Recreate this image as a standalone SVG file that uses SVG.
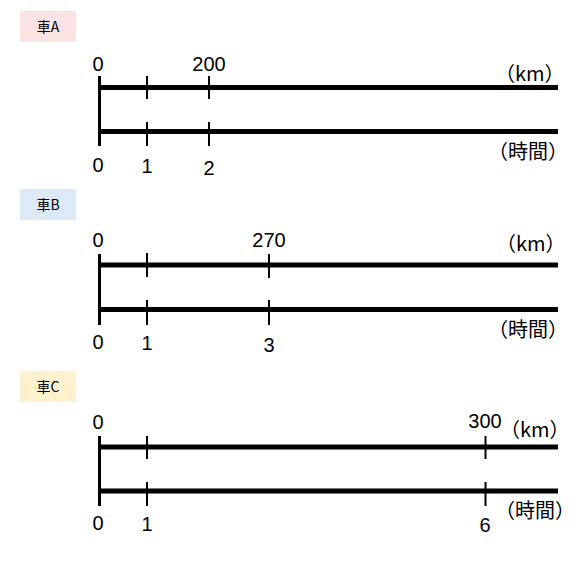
<svg xmlns="http://www.w3.org/2000/svg" width="584" height="562" viewBox="0 0 584 562">
<style>
.bg{fill:#ffffff}
.thick{stroke:#000;stroke-width:5;fill:none}
.axis{stroke:#000;stroke-width:3;fill:none}
.tick{stroke:#000;stroke-width:2;fill:none}
.num{font-family:"Liberation Sans","Noto Sans CJK JP",sans-serif;font-size:20px;fill:#000;text-anchor:middle}
.unit{font-family:"Noto Sans CJK JP",sans-serif;font-size:20px;fill:#000}
.tag{font-family:"Noto Sans CJK JP",sans-serif;font-size:14px;fill:#000;text-anchor:middle}
</style>
<rect class="bg" x="0" y="0" width="584" height="562"/>

<g id="carA">
  <rect x="20" y="11" width="56" height="31" fill="#fce3e3"/>
  <text class="tag" x="48" y="32">車A</text>
  <text class="num" x="98" y="71">0</text>
  <text class="num" x="209" y="71">200</text>
  <text class="unit" x="495" y="81">（km）</text>
  <text class="num" x="98" y="172">0</text>
  <text class="num" x="147" y="173">1</text>
  <text class="num" x="209" y="175">2</text>
  <text class="unit" x="488" y="159">（時間）</text>
</g>
<g id="carB">
  <rect x="20" y="189" width="56" height="31" fill="#dce9f7"/>
  <text class="tag" x="48" y="210">車B</text>
  <text class="num" x="98" y="247">0</text>
  <text class="num" x="269" y="247">270</text>
  <text class="unit" x="496" y="251">（km）</text>
  <text class="num" x="98" y="349">0</text>
  <text class="num" x="147" y="350">1</text>
  <text class="num" x="269" y="352">3</text>
  <text class="unit" x="488" y="337">（時間）</text>
</g>
<g id="carC">
  <rect x="20" y="371" width="56" height="31" fill="#fdf2cd"/>
  <text class="tag" x="48" y="392">車C</text>
  <text class="num" x="98" y="429">0</text>
  <text class="num" x="485" y="428">300</text>
  <text class="unit" x="500" y="437">（km）</text>
  <text class="num" x="98" y="530">0</text>
  <text class="num" x="147" y="531">1</text>
  <text class="num" x="485" y="532">6</text>
  <text class="unit" x="495" y="518">（時間）</text>
</g>

<g id="connectors">
  <!-- Car A -->
  <line class="thick" x1="99" y1="87.5" x2="558" y2="87.5"/>
  <line class="thick" x1="99" y1="131.5" x2="558" y2="131.5"/>
  <line class="axis" x1="99.5" y1="76" x2="99.5" y2="146"/>
  <line class="tick" x1="147" y1="76" x2="147" y2="99"/>
  <line class="tick" x1="209" y1="76" x2="209" y2="99"/>
  <line class="tick" x1="147" y1="122" x2="147" y2="146"/>
  <line class="tick" x1="209" y1="122" x2="209" y2="146"/>
  <!-- Car B -->
  <line class="thick" x1="99" y1="265" x2="558" y2="265"/>
  <line class="thick" x1="99" y1="309.5" x2="558" y2="309.5"/>
  <line class="axis" x1="99.5" y1="254" x2="99.5" y2="325"/>
  <line class="tick" x1="147" y1="253" x2="147" y2="277"/>
  <line class="tick" x1="269" y1="254" x2="269" y2="278"/>
  <line class="tick" x1="147" y1="300" x2="147" y2="325"/>
  <line class="tick" x1="269" y1="300" x2="269" y2="325"/>
  <!-- Car C -->
  <line class="thick" x1="99" y1="447" x2="558" y2="447"/>
  <line class="thick" x1="99" y1="491" x2="558" y2="491"/>
  <line class="axis" x1="99.5" y1="436" x2="99.5" y2="506"/>
  <line class="tick" x1="147" y1="436" x2="147" y2="459"/>
  <line class="tick" x1="485.5" y1="436" x2="485.5" y2="459"/>
  <line class="tick" x1="147" y1="482" x2="147" y2="506"/>
  <line class="tick" x1="485.5" y1="482" x2="485.5" y2="506"/>
</g>
</svg>
